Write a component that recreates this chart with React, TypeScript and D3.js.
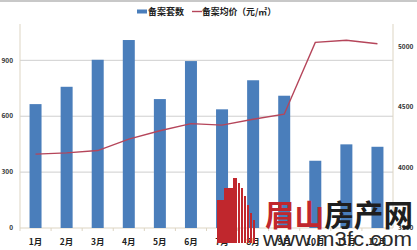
import React from "react";
import * as d3 from "d3";

const months = ["1月", "2月", "3月", "4月", "5月", "6月", "7月", "8月", "9月", "10月", "11月", "12月"];
const units = [665, 758, 903, 1009, 692, 896, 637, 793, 710, 361, 449, 436];
const prices = [4111, 4122, 4141, 4235, 4305, 4364, 4351, 4400, 4442, 5036, 5053, 5025];
const leftTicks = [0, 300, 600, 900];
const rightTicks = [3500, 4000, 4500, 5000];

const W = 417;
const H = 250;
const FONT = "'Noto Sans CJK SC', 'Noto Sans', sans-serif";

export default function App() {
  const x = d3.scaleBand<string>().domain(months).range([20, 393]).paddingInner(0.614).paddingOuter(0.307);
  const yL = d3.scaleLinear().domain([0, 1095]).range([228, 24]);
  const yR = d3.scaleLinear().domain([3500, 5188]).range([228, 24]);
  const step = x.step();
  const line = d3
    .line<number>()
    .x((_, i) => (x(months[i]) as number) + x.bandwidth() / 2)
    .y((d) => yR(d));

  return (
    <svg width={W} height={H} style={{ position: "absolute", left: 0, top: 0, background: "#fff" }}>
      <rect x={0} y={0} width={W} height={H} fill="#fff" />
      <line x1={0} x2={W} y1={1} y2={1} stroke="#c8c8c8" strokeWidth={2} />
      {leftTicks.filter((t) => t > 0).map((t) => (
        <line key={t} x1={20} x2={393} y1={yL(t)} y2={yL(t)} stroke="#cfcfcf" strokeWidth={1} />
      ))}
      <line x1={20} x2={20} y1={24} y2={228} stroke="#ddd5c3" strokeWidth={1} />
      <line x1={393} x2={393} y1={24} y2={228} stroke="#ddd5c3" strokeWidth={1} />
      <line x1={20} x2={393} y1={228} y2={228} stroke="#ddd5c3" strokeWidth={1} />
      {months.map((m, i) => (
        <line key={m} x1={20 + step * i} x2={20 + step * i} y1={228} y2={231} stroke="#ddd5c3" />
      ))}
      {units.map((v, i) => (
        <rect key={i} x={x(months[i])} y={yL(v)} width={x.bandwidth()} height={yL(0) - yL(v)} fill="#4a7ebb" />
      ))}
      <path d={line(prices) || ""} fill="none" stroke="#b5455a" strokeWidth={1.4} />
      {leftTicks.map((t) => (
        <text key={t} x={13} y={yL(t)} dy="0.35em" textAnchor="end" fontSize={6.5} fontWeight="bold" fill="#333" fontFamily={FONT}>
          {t}
        </text>
      ))}
      {rightTicks.map((t) => (
        <text key={t} x={398} y={yR(t)} dy="0.35em" textAnchor="start" fontSize={6.5} fontWeight="bold" fill="#333" fontFamily={FONT}>
          {t}
        </text>
      ))}
      {months.map((m) => (
        <text key={m} x={(x(m) as number) + x.bandwidth() / 2} y={242} dy="0.35em" textAnchor="middle" fontSize={8.5} fontWeight="bold" fill="#222" fontFamily={FONT}>
          {m}
        </text>
      ))}
      <rect x={137} y={9.5} width={10} height={4} fill="#4a7ebb" />
      <text x={148} y={12} dy="0.35em" fontSize={9} fontWeight="bold" fill="#222" fontFamily={FONT}>备案套数</text>
      <line x1={192} x2={202} y1={11.5} y2={11.5} stroke="#b5455a" strokeWidth={1.4} />
      <text x={202} y={12} dy="0.35em" fontSize={9} fontWeight="bold" fill="#222" fontFamily={FONT} textLength={74} lengthAdjust="spacingAndGlyphs">备案均价（元/㎡）</text>
      <g fill="#c0272d">
        <rect x={217} y={200} width={7} height={43} />
        <rect x={224} y={188} width={9} height={55} />
        <rect x={233} y={178} width={4} height={65} />
        <rect x={238} y={183} width={2} height={60} />
        <rect x={241} y={188} width={2} height={55} />
        <rect x={244} y={196} width={2} height={47} />
        <rect x={247} y={205} width={2} height={38} />
        <rect x={250} y={213} width={2} height={30} />
        <rect x={253} y={220} width={2} height={23} />
      </g>
      <text x={265} y={226} fontSize={30} fontWeight="bold" fontFamily={FONT} textLength={148} lengthAdjust="spacingAndGlyphs">
        <tspan fill="#c0272d">眉山</tspan>
        <tspan fill="#1e1e1e">房产网</tspan>
      </text>
      <text x={263} y={246} fontSize={20} fill="#2a2a2a" fontFamily="'Liberation Sans', Arial, sans-serif" textLength={149} lengthAdjust="spacingAndGlyphs">
        www.m3fc.com
      </text>
    </svg>
  );
}
